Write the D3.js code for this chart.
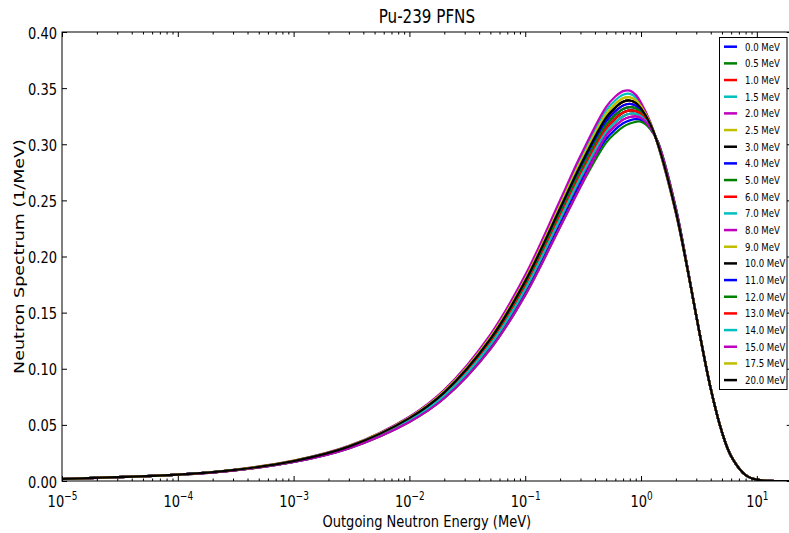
<!DOCTYPE html>
<html>
<head>
<meta charset="utf-8">
<script src="https://cdn.jsdelivr.net/npm/d3@7"></script>
<style>
  body { margin: 0; background: #fff; }
  svg text { font-family: "DejaVu Sans", sans-serif; fill: #000; }
</style>
</head>
<body>
<svg id="chart"></svg>
<script>
// outgoing neutron energy grid (MeV)
const energy = [1e-5, 1e-4, 3e-4, 1e-3, 3e-3, 0.01, 0.02, 0.05, 0.1, 0.2, 0.3, 0.5, 0.6, 0.7, 0.8, 0.9, 1.0, 1.2, 1.4, 2.0, 2.5, 3.0, 4.0, 5.0, 6.0, 8.0, 10.0, 13.0, 20.0];

// incident energies (legend)
const incident = ["0.0 MeV", "0.5 MeV", "1.0 MeV", "1.5 MeV", "2.0 MeV", "2.5 MeV", "3.0 MeV", "4.0 MeV", "5.0 MeV", "6.0 MeV", "7.0 MeV",
  "8.0 MeV", "9.0 MeV", "10.0 MeV", "11.0 MeV", "12.0 MeV", "13.0 MeV", "14.0 MeV", "15.0 MeV", "17.5 MeV", "20.0 MeV"];

const colors = ["#0000ff", "#008000", "#ff0000", "#00bfbf", "#bf00bf", "#bfbf00", "#000000",
  "#0000ff", "#008000", "#ff0000", "#00bfbf", "#bf00bf", "#bfbf00", "#000000",
  "#0000ff", "#008000", "#ff0000", "#00bfbf", "#bf00bf", "#bfbf00", "#000000"];

// spectra (1/MeV)
const pfns00 = [0.0018, 0.0056, 0.0096, 0.0175, 0.0302, 0.0550, 0.0775, 0.1240, 0.1745, 0.2382, 0.2759, 0.3174, 0.3262, 0.3314, 0.3331, 0.3320, 0.3285, 0.3168, 0.3006, 0.2408, 0.1909, 0.1470, 0.0822, 0.0435, 0.0221, 0.0053, 0.0012, 0.0001, 0.0000];
const pfns05 = [0.0018, 0.0056, 0.0095, 0.0174, 0.0300, 0.0545, 0.0767, 0.1227, 0.1727, 0.2358, 0.2731, 0.3142, 0.3229, 0.3282, 0.3302, 0.3296, 0.3268, 0.3162, 0.3009, 0.2413, 0.1911, 0.1470, 0.0822, 0.0435, 0.0221, 0.0053, 0.0012, 0.0001, 0.0000];
const pfns10 = [0.0018, 0.0056, 0.0097, 0.0176, 0.0304, 0.0555, 0.0783, 0.1253, 0.1763, 0.2406, 0.2787, 0.3206, 0.3295, 0.3346, 0.3360, 0.3344, 0.3302, 0.3174, 0.3003, 0.2403, 0.1907, 0.1470, 0.0822, 0.0435, 0.0221, 0.0053, 0.0012, 0.0001, 0.0000];
const pfns15 = [0.0018, 0.0056, 0.0095, 0.0173, 0.0298, 0.0540, 0.0760, 0.1214, 0.1709, 0.2334, 0.2704, 0.3110, 0.3197, 0.3250, 0.3272, 0.3272, 0.3251, 0.3155, 0.3012, 0.2418, 0.1913, 0.1470, 0.0822, 0.0435, 0.0221, 0.0053, 0.0012, 0.0001, 0.0000];
const pfns20 = [0.0018, 0.0056, 0.0094, 0.0171, 0.0295, 0.0536, 0.0752, 0.1201, 0.1692, 0.2311, 0.2676, 0.3079, 0.3164, 0.3219, 0.3243, 0.3248, 0.3234, 0.3149, 0.3015, 0.2422, 0.1915, 0.1470, 0.0822, 0.0435, 0.0221, 0.0053, 0.0012, 0.0001, 0.0000];
const pfns25 = [0.0018, 0.0056, 0.0097, 0.0177, 0.0306, 0.0560, 0.0790, 0.1266, 0.1781, 0.2430, 0.2814, 0.3238, 0.3327, 0.3378, 0.3390, 0.3368, 0.3319, 0.3181, 0.3000, 0.2398, 0.1905, 0.1470, 0.0822, 0.0435, 0.0221, 0.0053, 0.0012, 0.0001, 0.0000];
const pfns30 = [0.0018, 0.0056, 0.0095, 0.0174, 0.0300, 0.0545, 0.0767, 0.1227, 0.1727, 0.2358, 0.2731, 0.3142, 0.3229, 0.3282, 0.3302, 0.3296, 0.3268, 0.3162, 0.3009, 0.2413, 0.1911, 0.1470, 0.0822, 0.0435, 0.0221, 0.0053, 0.0012, 0.0001, 0.0000];
const pfns40 = [0.0018, 0.0056, 0.0094, 0.0170, 0.0293, 0.0531, 0.0745, 0.1188, 0.1674, 0.2287, 0.2649, 0.3047, 0.3132, 0.3187, 0.3213, 0.3224, 0.3217, 0.3142, 0.3018, 0.2427, 0.1917, 0.1470, 0.0822, 0.0435, 0.0221, 0.0053, 0.0012, 0.0001, 0.0000];
const pfns50 = [0.0018, 0.0056, 0.0093, 0.0169, 0.0291, 0.0526, 0.0737, 0.1175, 0.1656, 0.2263, 0.2621, 0.3015, 0.3099, 0.3155, 0.3184, 0.3200, 0.3200, 0.3136, 0.3021, 0.2432, 0.1919, 0.1470, 0.0822, 0.0435, 0.0221, 0.0053, 0.0012, 0.0001, 0.0000];
const pfns60 = [0.0018, 0.0056, 0.0095, 0.0173, 0.0298, 0.0540, 0.0760, 0.1214, 0.1709, 0.2334, 0.2704, 0.3110, 0.3197, 0.3250, 0.3272, 0.3272, 0.3251, 0.3155, 0.3012, 0.2418, 0.1913, 0.1470, 0.0822, 0.0435, 0.0221, 0.0053, 0.0012, 0.0001, 0.0000];
const pfns70 = [0.0018, 0.0056, 0.0098, 0.0180, 0.0311, 0.0569, 0.0805, 0.1292, 0.1816, 0.2477, 0.2869, 0.3301, 0.3392, 0.3441, 0.3449, 0.3416, 0.3353, 0.3194, 0.2994, 0.2389, 0.1901, 0.1470, 0.0822, 0.0435, 0.0221, 0.0053, 0.0012, 0.0001, 0.0000];
const pfns80 = [0.0018, 0.0056, 0.0099, 0.0181, 0.0313, 0.0574, 0.0813, 0.1305, 0.1834, 0.2501, 0.2897, 0.3333, 0.3425, 0.3473, 0.3478, 0.3440, 0.3370, 0.3200, 0.2991, 0.2384, 0.1899, 0.1470, 0.0822, 0.0435, 0.0221, 0.0053, 0.0012, 0.0001, 0.0000];
const pfns90 = [0.0018, 0.0056, 0.0098, 0.0179, 0.0309, 0.0564, 0.0798, 0.1279, 0.1798, 0.2453, 0.2842, 0.3269, 0.3360, 0.3409, 0.3419, 0.3392, 0.3336, 0.3187, 0.2997, 0.2394, 0.1903, 0.1470, 0.0822, 0.0435, 0.0221, 0.0053, 0.0012, 0.0001, 0.0000];
const pfns100 = [0.0018, 0.0056, 0.0097, 0.0177, 0.0306, 0.0560, 0.0790, 0.1266, 0.1781, 0.2430, 0.2814, 0.3238, 0.3327, 0.3378, 0.3390, 0.3368, 0.3319, 0.3181, 0.3000, 0.2398, 0.1905, 0.1470, 0.0822, 0.0435, 0.0221, 0.0053, 0.0012, 0.0001, 0.0000];
const pfns110 = [0.0018, 0.0056, 0.0097, 0.0176, 0.0304, 0.0555, 0.0783, 0.1253, 0.1763, 0.2406, 0.2787, 0.3206, 0.3295, 0.3346, 0.3360, 0.3344, 0.3302, 0.3174, 0.3003, 0.2403, 0.1907, 0.1470, 0.0822, 0.0435, 0.0221, 0.0053, 0.0012, 0.0001, 0.0000];
const pfns120 = [0.0018, 0.0056, 0.0096, 0.0175, 0.0302, 0.0550, 0.0775, 0.1240, 0.1745, 0.2382, 0.2759, 0.3174, 0.3262, 0.3314, 0.3331, 0.3320, 0.3285, 0.3168, 0.3006, 0.2408, 0.1909, 0.1470, 0.0822, 0.0435, 0.0221, 0.0053, 0.0012, 0.0001, 0.0000];
const pfns130 = [0.0018, 0.0056, 0.0095, 0.0174, 0.0300, 0.0545, 0.0767, 0.1227, 0.1727, 0.2358, 0.2731, 0.3142, 0.3229, 0.3282, 0.3302, 0.3296, 0.3268, 0.3162, 0.3009, 0.2413, 0.1911, 0.1470, 0.0822, 0.0435, 0.0221, 0.0053, 0.0012, 0.0001, 0.0000];
const pfns140 = [0.0018, 0.0056, 0.0095, 0.0173, 0.0298, 0.0540, 0.0760, 0.1214, 0.1709, 0.2334, 0.2704, 0.3110, 0.3197, 0.3250, 0.3272, 0.3272, 0.3251, 0.3155, 0.3012, 0.2418, 0.1913, 0.1470, 0.0822, 0.0435, 0.0221, 0.0053, 0.0012, 0.0001, 0.0000];
const pfns150 = [0.0018, 0.0056, 0.0093, 0.0169, 0.0291, 0.0526, 0.0737, 0.1175, 0.1656, 0.2263, 0.2621, 0.3079, 0.3164, 0.3219, 0.3243, 0.3248, 0.3234, 0.3149, 0.3015, 0.2422, 0.1915, 0.1470, 0.0822, 0.0435, 0.0221, 0.0053, 0.0012, 0.0001, 0.0000];
const pfns175 = [0.0018, 0.0056, 0.0098, 0.0179, 0.0309, 0.0564, 0.0798, 0.1279, 0.1798, 0.2453, 0.2842, 0.3269, 0.3360, 0.3409, 0.3419, 0.3392, 0.3336, 0.3187, 0.2997, 0.2394, 0.1903, 0.1470, 0.0822, 0.0435, 0.0221, 0.0053, 0.0012, 0.0001, 0.0000];
const pfns200 = [0.0018, 0.0056, 0.0097, 0.0177, 0.0306, 0.0560, 0.0790, 0.1266, 0.1781, 0.2430, 0.2814, 0.3238, 0.3327, 0.3378, 0.3390, 0.3368, 0.3319, 0.3181, 0.3000, 0.2398, 0.1905, 0.1470, 0.0822, 0.0435, 0.0221, 0.0053, 0.0012, 0.0001, 0.0000];

const spectra = [pfns00, pfns05, pfns10, pfns15, pfns20, pfns25, pfns30, pfns40, pfns50, pfns60, pfns70,
  pfns80, pfns90, pfns100, pfns110, pfns120, pfns130, pfns140, pfns150, pfns175, pfns200];

const yTicks = [0, 0.05, 0.10, 0.15, 0.20, 0.25, 0.30, 0.35, 0.40];
const xTicks = [1e-5, 1e-4, 1e-3, 1e-2, 1e-1, 1e0, 1e1];
const xExp = ["\u22125", "\u22124", "\u22123", "\u22122", "\u22121", "0", "1"];

// Initial stuffs
const W = 789, H = 533;
const pLeft = 62, pRight = 791.7, pTop = 32, pBottom = 481;
const sx = 0.78; // text looks squeezed horizontally

var svg = d3.select("#chart").attr("width", W).attr("height", H);

var x = d3.scaleLog().domain([1e-5, 20]).range([pLeft, pRight]);
var y = d3.scaleLinear().domain([0, 0.4]).range([pBottom, pTop]);

// minor ticks on the log axis
var minor = [];
for (let k = -5; k <= 1; k++)
  for (let m = 2; m <= 9; m++) {
    let v = m * Math.pow(10, k);
    if (v <= 20) minor.push(v);
  }

/* CURVES */
svg.append("defs").append("clipPath").attr("id", "plotclip")
  .append("rect").attr("x", pLeft).attr("y", pTop)
  .attr("width", pRight - pLeft).attr("height", pBottom - pTop);

var line = d3.line()
  .x((d, i) => x(energy[i]))
  .y((d) => y(d))
  .curve(d3.curveCatmullRom.alpha(0.5));

svg.append("g").attr("class", "curves").attr("clip-path", "url(#plotclip)")
  .selectAll("path")
  .data(spectra)
  .join("path")
  .attr("d", line)
  .attr("fill", "none")
  .attr("stroke", (d, i) => colors[i])
  .attr("stroke-width", 2.2)
  .attr("stroke-linejoin", "round");

/* AXES */
function clean(g) {
  g.select(".domain").remove();
  g.selectAll(".tick line").attr("stroke", "#000");
}

// bottom, major with labels
var gx = svg.append("g")
  .attr("transform", `translate(0,${pBottom})`)
  .call(d3.axisBottom(x).tickValues(xTicks).tickSize(-5).tickPadding(14).tickFormat(""))
  .call(clean);
gx.selectAll(".tick text").each(function (d, i) {
  const t = d3.select(this);
  t.attr("transform", `scale(${sx},1)`)
    .attr("font-size", 16.7)
    .attr("font-family", "DejaVu Sans, sans-serif");
  t.append("tspan").text("10");
  t.append("tspan").attr("dy", -7).attr("font-size", 11.5).text(xExp[i]);
});
svg.append("g").attr("transform", `translate(0,${pBottom})`)
  .call(d3.axisBottom(x).tickValues(minor).tickSize(-2.5).tickFormat(""))
  .call(clean);

// top
svg.append("g").attr("transform", `translate(0,${pTop})`)
  .call(d3.axisTop(x).tickValues(xTicks).tickSize(-5).tickFormat(""))
  .call(clean);
svg.append("g").attr("transform", `translate(0,${pTop})`)
  .call(d3.axisTop(x).tickValues(minor).tickSize(-2.5).tickFormat(""))
  .call(clean);

// left with labels
var gy = svg.append("g")
  .attr("transform", `translate(${pLeft},0)`)
  .call(d3.axisLeft(y).tickValues(yTicks).tickSize(-5).tickPadding(5).tickFormat(d3.format(".2f")))
  .call(clean);
gy.selectAll(".tick text")
  .attr("font-size", 16.7)
  .attr("font-family", "DejaVu Sans, sans-serif")
  .attr("dy", "0.36em")
  .attr("x", -5 / sx)
  .attr("transform", `scale(${sx},1)`);

// right
svg.append("g").attr("transform", `translate(${pRight},0)`)
  .call(d3.axisRight(y).tickValues(yTicks).tickSize(-5).tickFormat(""))
  .call(clean);

// frame
svg.append("rect")
  .attr("x", pLeft).attr("y", pTop)
  .attr("width", pRight - pLeft).attr("height", pBottom - pTop)
  .attr("fill", "none").attr("stroke", "#000").attr("stroke-width", 1);

/* TITLES */
svg.append("text")
  .attr("transform", `translate(${(pLeft + pRight) / 2},23) scale(${sx},1)`)
  .attr("text-anchor", "middle")
  .attr("font-size", 19.4)
  .text("Pu-239 PFNS");

svg.append("text")
  .attr("transform", `translate(${(pLeft + pRight) / 2},527) scale(${sx},1)`)
  .attr("text-anchor", "middle")
  .attr("font-size", 16.7)
  .text("Outgoing Neutron Energy (MeV)");

svg.append("text")
  .attr("transform", `translate(19,${(pTop + pBottom) / 2}) rotate(-90) scale(1,${sx})`)
  .attr("text-anchor", "middle")
  .attr("dominant-baseline", "central")
  .attr("font-size", 17.5)
  .text("Neutron Spectrum (1/MeV)");

/* LEGEND */
var legend = svg.append("g").attr("class", "legend");
legend.append("rect")
  .attr("x", 719.5).attr("y", 37.5)
  .attr("width", 67.5).attr("height", 352)
  .attr("fill", "#fff").attr("stroke", "#000").attr("stroke-width", 1);

var rows = legend.selectAll("g.row")
  .data(incident)
  .join("g")
  .attr("class", "row")
  .attr("transform", (d, i) => `translate(0,${46.7 + i * 16.67})`);
rows.append("line")
  .attr("x1", 724).attr("x2", 737)
  .attr("stroke", (d, i) => colors[i])
  .attr("stroke-width", 2.5);
rows.append("text")
  .attr("transform", `translate(745,0) scale(${sx},1)`)
  .attr("dy", "0.36em")
  .attr("font-size", 11)
  .text((d) => d);
</script>
</body>
</html>
